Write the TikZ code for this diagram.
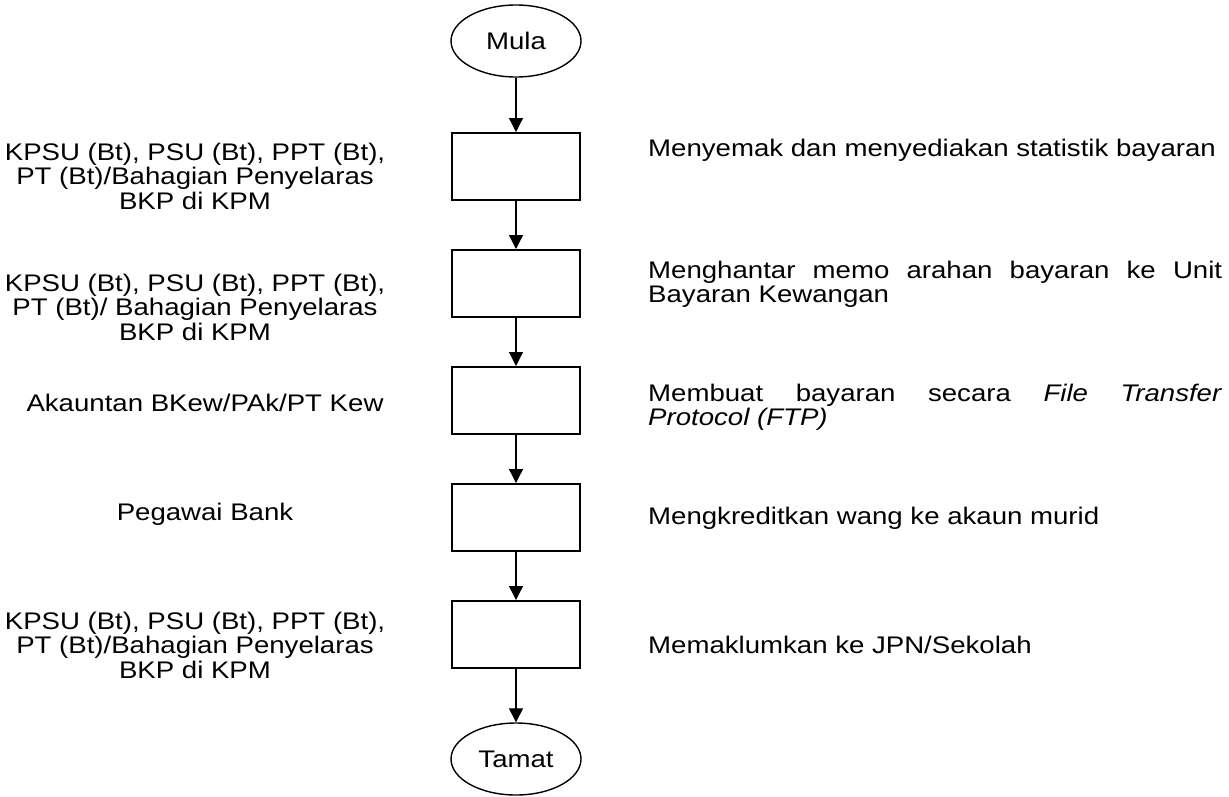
\documentclass[tikz,border=0pt]{standalone}
\usepackage{fontspec}
\setmainfont{Liberation Sans}[FakeStretch=1.15]
\usetikzlibrary{shapes.geometric,arrows.meta}
\begin{document}
\begin{tikzpicture}[x=1pt,y=-1pt,
  every node/.style={font=\fontsize{24}{24.5}\selectfont},
  terminal/.style={draw,ellipse,line width=1.4pt,minimum width=130pt,minimum height=72pt,inner sep=0pt},
  stepbox/.style={draw,rectangle,line width=2pt,minimum width=128pt,minimum height=67pt,inner sep=0pt},
  flow/.style={line width=1.3pt,-{Triangle[width=14pt,length=14pt]}},
  who/.style={align=center,anchor=base,inner sep=0pt},
  what/.style={text width=574pt,align=justify,anchor=base west,inner sep=0pt}]
\useasboundingbox (0,0) rectangle (1229,796);

% flow column
\node[terminal] (mula) at (516,41) {Mula};
\node[stepbox] (b1) at (516,166.5) {};
\node[stepbox] (b2) at (516,283.5) {};
\node[stepbox] (b3) at (516,400.5) {};
\node[stepbox] (b4) at (516,517.5) {};
\node[stepbox] (b5) at (516,634.5) {};
\node[terminal] (tamat) at (516,759) {Tamat};

\draw[flow] (mula) -- (b1);
\draw[flow] (b1) -- (b2);
\draw[flow] (b2) -- (b3);
\draw[flow] (b3) -- (b4);
\draw[flow] (b4) -- (b5);
\draw[flow] (b5) -- (tamat);

% who performs each step (anchored at the baseline of the last line)
\node[who] (w1) at (195,209) {KPSU (Bt), PSU (Bt), PPT (Bt),\\PT (Bt)/Bahagian Penyelaras\\BKP di KPM};
\node[who] (w2) at (195,340) {KPSU (Bt), PSU (Bt), PPT (Bt),\\PT (Bt)/ Bahagian Penyelaras\\BKP di KPM};
\node[who] (w3) at (205,411) {Akauntan BKew/PAk/PT Kew};
\node[who] (w4) at (205,520) {Pegawai Bank};
\node[who] (w5) at (195,678) {KPSU (Bt), PSU (Bt), PPT (Bt),\\PT (Bt)/Bahagian Penyelaras\\BKP di KPM};

% what each step does (anchored at the baseline of the first line)
\node[what] (d1) at (648,156) {Menyemak dan menyediakan statistik bayaran};
\node[what] (d2) at (648,278) {Menghantar memo arahan bayaran ke Unit\linebreak Bayaran Kewangan};
\node[what] (d3) at (648,401) {Membuat bayaran secara \textit{File Transfer}\linebreak\textit{Protocol (FTP)}};
\node[what] (d4) at (648,524) {Mengkreditkan wang ke akaun murid};
\node[what] (d5) at (648,653) {Memaklumkan ke JPN/Sekolah};
\end{tikzpicture}
\end{document}
